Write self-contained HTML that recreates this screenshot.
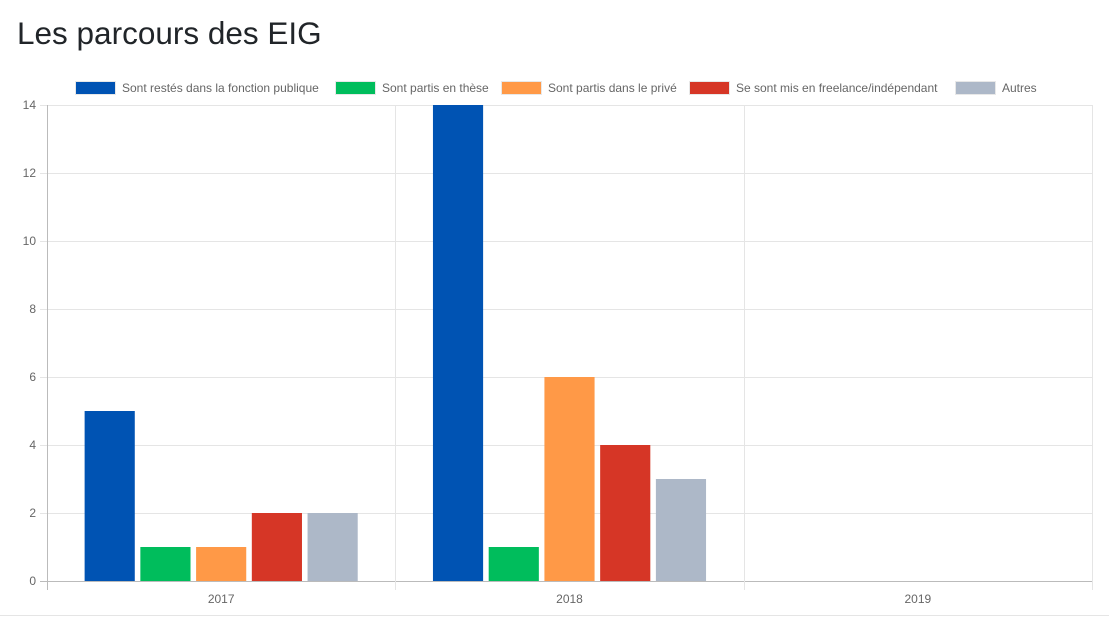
<!DOCTYPE html>
<html><head><meta charset="utf-8"><style>
body{margin:0;background:#fff;width:1109px;height:617px;overflow:hidden;font-family:"Liberation Sans",sans-serif;position:relative}
h1{position:absolute;left:17px;top:15px;margin:0;font-weight:400;font-size:31.5px;color:#212529}
.bottom{position:absolute;left:0;top:615px;width:1109px;height:1px;background:#e5e5e5}
</style></head><body>
<h1>Les parcours des EIG</h1>
<svg id="c" width="1109" height="617" style="position:absolute;left:0;top:0"></svg>
<div class="bottom"></div>
<script>
const categories=["2017","2018","2019"];
const seriesNames=["Sont restés dans la fonction publique","Sont partis en thèse","Sont partis dans le privé","Se sont mis en freelance/indépendant","Autres"];
const seriesColors=["#0053b3","#00bd5c","#ff9947","#d63626","#adb8c8"];
const s0=[5,14,0];
const s1=[1,1,0];
const s2=[1,6,0];
const s3=[2,4,0];
const s4=[2,3,0];
const yTicks=[0,2,4,6,8,10,12,14];
const series=[s0,s1,s2,s3,s4];
const legendX=[75,335,501,689,955];
const NS="http://www.w3.org/2000/svg";
const svg=document.getElementById('c');
const L=47,R=1092,T=105,B=581,yMax=14;
const y=v=>B-(B-T)*v/yMax;
const cw=(R-L)/categories.length;
function mk(t,a,p){const e=document.createElementNS(NS,t);for(const k in a)e.setAttribute(k,a[k]);(p||svg).appendChild(e);return e;}
yTicks.forEach(t=>{
 const g=mk('line',{x1:40,x2:R,y1:y(t)+.5,y2:y(t)+.5,stroke:t===0?'#bbb':'#e5e5e5'});
 
 
 const tx=mk('text',{x:36,y:y(t)+4,'text-anchor':'end','font-size':12,fill:'#666'});
 tx.textContent=t;
 
 
});
for(let i=0;i<=categories.length;i++){
 const x=Math.round(L+cw*i)+.5;
 const g=mk('line',{x1:x,x2:x,y1:T,y2:590,stroke:i===0?'#bbb':'#e5e5e5'});
 
 
}
categories.forEach((c,i)=>{
 const tx=mk('text',{x:L+cw*(i+.5),y:603,'text-anchor':'middle','font-size':12,fill:'#666'});
 tx.textContent=c;
 
 
 const step=cw*0.8/series.length, bw=step*0.9;
 series.forEach((s,j)=>{
  const v=s[i]; if(!v) return;
  const x0=L+cw*(i+.5)-cw*0.4+step*j+(step-bw)/2;
  const r=mk('rect',{x:x0,y:y(v),width:bw,height:B-y(v),fill:seriesColors[j]});
  
  
 });
});
seriesNames.forEach((n,j)=>{
 const r=mk('rect',{x:legendX[j]+.5,y:81.5,width:40,height:13,fill:seriesColors[j],stroke:'#e8e8e8'});
 
 
 const tx=mk('text',{x:legendX[j]+47,y:92,'font-size':12,fill:'#666'});
 tx.textContent=n;
 
 
});
</script>
</body></html>
